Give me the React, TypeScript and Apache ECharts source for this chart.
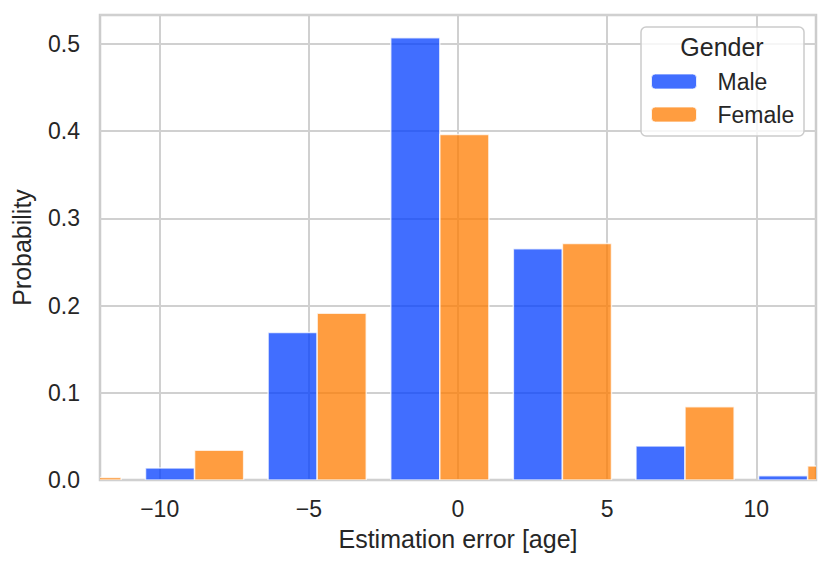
import React, { useEffect, useRef } from "react";
import * as echarts from "echarts";

const binWidth = 37 / 9;
const binCenters = [-12.94, -8.83, -4.72, -0.61, 3.5, 7.61, 11.72];
const maleValues = [0.001, 0.0137, 0.169, 0.507, 0.265, 0.039, 0.005];
const femaleValues = [0.003, 0.034, 0.191, 0.396, 0.271, 0.084, 0.016];
const xTicks = [-10, -5, 0, 5, 10];
const seriesNames = ["Male", "Female"];
const legendTitle = "Gender";

const FONT = "Liberation Sans, Arial, Helvetica, sans-serif";

export default function App() {
  const ref = useRef<HTMLDivElement>(null);
  useEffect(() => {
    if (!ref.current) return;
    const chart = echarts.init(ref.current, null, { renderer: "svg" });
    const half = binWidth * 0.4;
    const maleData = binCenters.map((c, i) => [c - half, c, maleValues[i]]);
    const femaleData = binCenters.map((c, i) => [c, c + half, femaleValues[i]]);
    const renderItem = (params: any, api: any) => {
      const p0 = api.coord([api.value(0), api.value(2)]);
      const p1 = api.coord([api.value(1), 0]);
      return {
        type: "rect",
        shape: { x: p0[0], y: p0[1], width: p1[0] - p0[0], height: p1[1] - p0[1] },
        style: {
          fill: api.visual("color"),
          stroke: "rgba(255,255,255,0.75)",
          lineWidth: 1.5,
        },
      };
    };
    const fmtX = (v: number) => (v < 0 ? "\u2212" + Math.abs(v) : String(v));
    chart.setOption({
      animation: false,
      textStyle: { fontFamily: FONT },
      grid: {
        left: 100,
        right: 15,
        top: 15,
        bottom: 89,
        show: true,
        borderColor: "#cccccc",
        borderWidth: 2.5,
        backgroundColor: "transparent",
      },
      xAxis: {
        type: "value",
        min: -12,
        max: 12,
        name: "Estimation error [age]",
        nameLocation: "middle",
        nameGap: 46,
        nameTextStyle: { fontSize: 25, color: "#262626", fontFamily: FONT },
        axisLine: { show: false },
        axisTick: { show: false, customValues: xTicks },
        axisLabel: {
          customValues: xTicks,
          formatter: fmtX,
          fontSize: 23,
          color: "#262626",
          margin: 17,
          fontFamily: FONT,
        },
        splitLine: { show: true, lineStyle: { color: "#d0d0d0", width: 2 } },
      },
      yAxis: {
        type: "value",
        min: 0,
        max: 0.533,
        interval: 0.1,
        name: "Probability",
        nameLocation: "middle",
        nameGap: 66,
        nameTextStyle: { fontSize: 25, color: "#262626", fontFamily: FONT },
        axisLine: { show: false },
        axisTick: { show: false },
        axisLabel: {
          formatter: (v: number) => v.toFixed(1),
          fontSize: 23,
          color: "#262626",
          margin: 20,
          showMaxLabel: false,
          fontFamily: FONT,
        },
        splitLine: { show: true, lineStyle: { color: "#d0d0d0", width: 2 } },
      },
      legend: {
        orient: "vertical",
        left: 651,
        top: 70,
        itemWidth: 45,
        itemHeight: 15,
        itemGap: 10,
        padding: 0,
        z: 20,
        data: seriesNames,
        textStyle: {
          fontSize: 23,
          color: "#262626",
          padding: [0, 0, 0, 16],
          fontFamily: FONT,
        },
        itemStyle: { borderColor: "rgba(255,255,255,0.75)", borderWidth: 1 },
      },
      graphic: [
        {
          type: "rect",
          z: 15,
          shape: { x: 641, y: 27, width: 163, height: 109, r: 5 },
          style: { fill: "rgba(255,255,255,0.8)", stroke: "#cccccc", lineWidth: 1.5 },
        },
        {
          type: "text",
          z: 16,
          x: 722,
          y: 47,
          style: {
            text: legendTitle,
            fontSize: 25,
            fill: "#262626",
            align: "center",
            verticalAlign: "middle",
            fontFamily: FONT,
          },
        },
      ],
      series: [
        {
          name: seriesNames[0],
          type: "custom",
          clip: true,
          renderItem,
          itemStyle: { color: "rgba(2,62,255,0.75)" },
          encode: { x: [0, 1], y: 2 },
          data: maleData,
        },
        {
          name: seriesNames[1],
          type: "custom",
          clip: true,
          renderItem,
          itemStyle: { color: "rgba(255,124,0,0.75)" },
          encode: { x: [0, 1], y: 2 },
          data: femaleData,
        },
      ],
    });
    return () => chart.dispose();
  }, []);
  return (
    <div
      ref={ref}
      style={{ position: "absolute", left: 0, top: 0, width: 831, height: 569 }}
    />
  );
}
